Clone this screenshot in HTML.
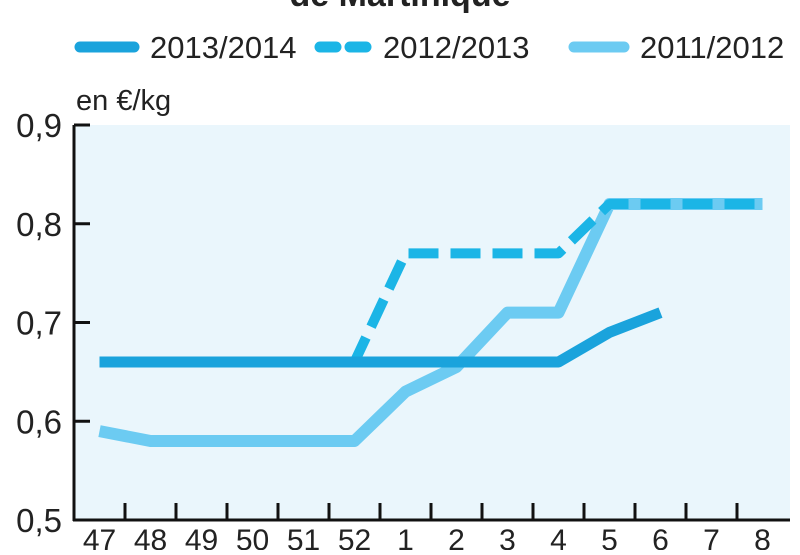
<!DOCTYPE html>
<html><head><meta charset="utf-8"><style>
body{margin:0;background:#fff;width:800px;height:550px;overflow:hidden;font-family:"Liberation Sans Narrow","Liberation Sans",sans-serif;}
svg text{font-family:"Liberation Sans Narrow","Liberation Sans",sans-serif;fill:#222;}
</style></head><body>
<svg width="800" height="550">
<text x="400" y="6" text-anchor="middle" font-size="34" font-weight="bold">de Martinique</text>
<g>
 <line x1="80" y1="47" x2="134" y2="47" stroke="#1aa3dc" stroke-width="11" stroke-linecap="round"/>
 <text x="150" y="58" font-size="31">2013/2014</text>
 <line x1="320" y1="47" x2="368" y2="47" stroke="#1bb5e6" stroke-width="11" stroke-linecap="round" stroke-dasharray="16,14"/>
 <text x="383" y="58" font-size="31">2012/2013</text>
 <line x1="574" y1="47" x2="624" y2="47" stroke="#6ccbf2" stroke-width="11" stroke-linecap="round"/>
 <text x="640" y="58" font-size="31">2011/2012</text>
</g>
<text x="76" y="110" font-size="29">en €/kg</text>
<rect x="74" y="125" width="716" height="395" fill="#eaf6fc"/>
<g id="yaxis"></g><g id="xaxis"></g><g id="series"></g>
<line x1="74" y1="125" x2="74" y2="521" stroke="#111" stroke-width="3"/>
<line x1="73" y1="520" x2="790" y2="520" stroke="#111" stroke-width="3"/>
</svg>
<script>
const categories=["47","48","49","50","51","52","1","2","3","4","5","6","7","8"];
const yTicks=[0.5,0.6,0.7,0.8,0.9];
const yTickLabels=["0,5","0,6","0,7","0,8","0,9"];
const s2011=[0.59,0.58,0.58,0.58,0.58,0.58,0.63,0.655,0.71,0.71,0.82,0.82,0.82,0.82];
const s2012=[0.66,0.66,0.66,0.66,0.66,0.66,0.77,0.77,0.77,0.77,0.82,0.82,0.82,0.82];
const s2013=[0.66,0.66,0.66,0.66,0.66,0.66,0.66,0.66,0.66,0.66,0.69,0.71];
const NS="http://www.w3.org/2000/svg";
const x0=74,band=51,yTop=125,yBot=520,vMin=0.5,vMax=0.9;
const xc=i=>x0+band*(i+0.5);
const y=v=>yBot-(v-vMin)/(vMax-vMin)*(yBot-yTop);
function mk(t,a,p){const e=document.createElementNS(NS,t);for(const k in a)e.setAttribute(k,a[k]);p.appendChild(e);return e;}
const ya=document.getElementById('yaxis'),xa=document.getElementById('xaxis'),sg=document.getElementById('series');
yTicks.forEach((v,i)=>{
 const l=mk('line',{x1:74,x2:90,y1:y(v),y2:y(v),stroke:'#111','stroke-width':3},ya);
 
 
 const t=mk('text',{x:62,y:y(v)+12,'text-anchor':'end','font-size':33},ya);
 t.textContent=yTickLabels[i];
 
 
});
categories.forEach((c,i)=>{
 if(i>0){const l=mk('line',{x1:x0+band*i,x2:x0+band*i,y1:503,y2:520,stroke:'#111','stroke-width':3},xa);
 
 }
 const t=mk('text',{x:xc(i),y:550,'text-anchor':'middle','font-size':30},xa);
 t.textContent=c;
 
 
});
function line(data,color,w,dash,name){
 const p=mk('polyline',{points:data.map((v,i)=>xc(i)+','+y(v)).join(' '),fill:'none',stroke:color,'stroke-width':w,'stroke-linejoin':'round','stroke-linecap':dash?'butt':'butt'},sg);
 if(dash)p.setAttribute('stroke-dasharray',dash);
 
 
}
line(s2011,'#6ccbf2',12,null,'line-2011-2012');
line(s2012,'#1bb5e6',10,'30,12','line-2012-2013');
line(s2013,'#1aa3dc',11,null,'line-2013-2014');
</script>
</body></html>
